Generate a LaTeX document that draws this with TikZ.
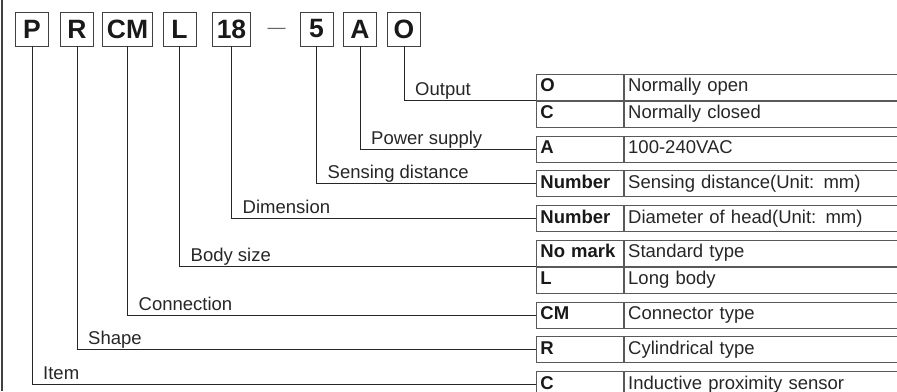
\documentclass[tikz,border=0pt]{standalone}
\usepackage{fontspec}
\setmainfont{Liberation Sans}
\usetikzlibrary{positioning}

\tikzset{
  codebox/.style={draw=black!75, line width=0.8pt, minimum width=33, minimum height=34, inner xsep=4pt, inner ysep=0pt, font=\fontsize{26.5}{28}\selectfont\bfseries, text=black!90},
  codecell/.style={draw=black!65, line width=0.8pt, anchor=north west, minimum height=26, text width=79, text height=12.5, text depth=3.5, inner xsep=4, inner ysep=0, align=left, font=\fontsize{18.5}{20}\selectfont\bfseries, text=black!90},
  desccell/.style={codecell, text width=400, font=\fontsize{18.5}{20}\selectfont, text=black!85},
  conn/.style={draw=black!85, line width=0.8pt},
  lbl/.style={anchor=base west, xshift=11pt, yshift=5pt, inner sep=0pt, font=\fontsize{18.5}{20}\selectfont, text=black!85}
}

\begin{document}
\begin{tikzpicture}[x=1pt, y=-1pt]
  \clip (0,0) rectangle (897,391);
  \draw[black!75, line width=1.6pt] (2,0) -- (2,391);

  % model code
  \node[codebox] (P) at (32,29) {P};
  \node[codebox] (R) at (77,29) {R};
  \node[codebox] (CM) at (127.5,29) {CM};
  \node[codebox] (L) at (179.5,29) {L};
  \node[codebox] (D18) at (231.5,29) {18};
  \node[font=\fontsize{18}{20}\selectfont, text=black!60] (dash) at (276.5,31) {—};
  \node[codebox] (S5) at (316.5,29) {5};
  \node[codebox] (A) at (360,29) {A};
  \node[codebox] (O) at (404,29) {O};

  % tables
  \node[codecell] (cO) at (536,74) {O};
  \node[desccell, right=0pt of cO] (dO) {Normally open};
  \node[codecell, below=0pt of cO] (cC) {C};
  \node[desccell, right=0pt of cC] (dC) {Normally closed};

  \node[codecell, below=8pt of cC] (cA) {A};
  \node[desccell, right=0pt of cA] (dA) {100-240VAC};

  \node[codecell, below=8pt of cA] (cSd) {Number};
  \node[desccell, right=0pt of cSd] (dSd) {Sensing distance(Unit: mm)};

  \node[codecell, below=8pt of cSd] (cDm) {Number};
  \node[desccell, right=0pt of cDm] (dDm) {Diameter of head(Unit: mm)};

  \node[codecell, below=8pt of cDm] (cNo) {No mark};
  \node[desccell, right=0pt of cNo] (dNo) {Standard type};
  \node[codecell, below=0pt of cNo] (cLb) {L};
  \node[desccell, right=0pt of cLb] (dLb) {Long body};

  \node[codecell, below=8pt of cLb] (cCM) {CM};
  \node[desccell, right=0pt of cCM] (dCM) {Connector type};

  \node[codecell, below=8pt of cCM] (cR) {R};
  \node[desccell, right=0pt of cR] (dR) {Cylindrical type};

  \node[codecell, below=8pt of cR] (cC2) {C};
  \node[desccell, right=0pt of cC2] (dC2) {Inductive proximity sensor};

  % connectors
  \draw[conn] (O.south) |- (cO.south west);
  \draw[conn] (A.south) |- (cA.west);
  \draw[conn] (S5.south) |- (cSd.west);
  \draw[conn] (D18.south) |- (cDm.west);
  \draw[conn] (L.south) |- (cNo.south west);
  \draw[conn] (CM.south) |- (cCM.west);
  \draw[conn] (R.south) |- (cR.west);
  \draw[conn] (P.south) |- (cC2.west);

  % labels
  \node[lbl] (lOut) at (O.south |- cO.south west) {Output};
  \node[lbl] (lPow) at (A.south |- cA.west) {Power supply};
  \node[lbl] (lSen) at (S5.south |- cSd.west) {Sensing distance};
  \node[lbl] (lDim) at (D18.south |- cDm.west) {Dimension};
  \node[lbl] (lBody) at (L.south |- cNo.south west) {Body size};
  \node[lbl] (lCon) at (CM.south |- cCM.west) {Connection};
  \node[lbl] (lShp) at (R.south |- cR.west) {Shape};
  \node[lbl] (lItm) at (P.south |- cC2.west) {Item};
\end{tikzpicture}
\end{document}
